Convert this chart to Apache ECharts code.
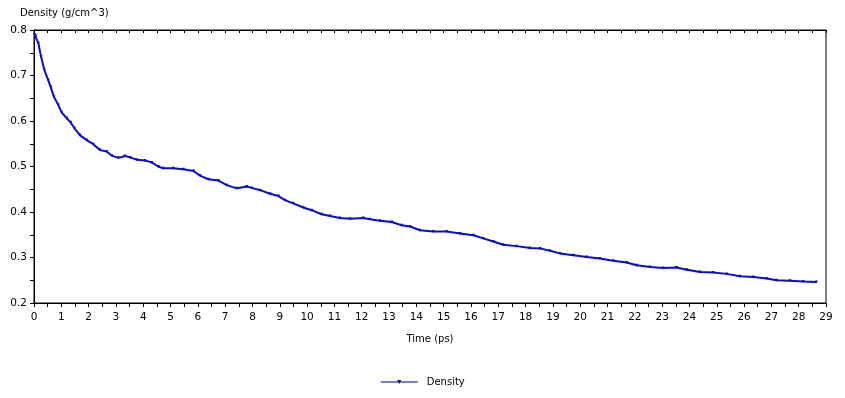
<!DOCTYPE html>
<html>
<head>
<meta charset="utf-8">
<script src="https://cdn.jsdelivr.net/npm/echarts@6/dist/echarts.min.js"></script>
<style>
  html, body { margin: 0; padding: 0; background: #fff; }
  #main { width: 845px; height: 398px; }
</style>
</head>
<body>
<div id="main"></div>
<script>
// time (ps)
var times = [0.02, 0.07, 0.16, 0.26, 0.38, 0.52, 0.61, 0.73, 0.89, 1.01, 1.20, 1.34, 1.48, 1.68, 1.93,
  2.17, 2.42, 2.66, 2.84, 3.09, 3.33, 3.52, 3.76, 4.06, 4.31, 4.55, 4.73, 5.10, 5.47, 5.84,
  6.08, 6.38, 6.75, 7.06, 7.42, 7.79, 7.97, 8.28, 8.64, 8.95, 9.19, 9.49, 9.86, 10.17, 10.53,
  10.84, 11.20, 11.57, 12.06, 12.30, 12.67, 13.10, 13.46, 13.77, 14.13, 14.62, 15.11, 15.60,
  16.09, 16.45, 16.82, 17.18, 17.67, 18.16, 18.53, 18.89, 19.26, 19.75, 20.24, 20.72, 21.21,
  21.70, 22.07, 22.56, 23.04, 23.53, 23.90, 24.39, 24.87, 25.36, 25.85, 26.34, 26.83, 27.19,
  27.68, 28.17, 28.65];
// density (g/cm^3)
var density = [0.790, 0.787, 0.771, 0.741, 0.712, 0.690, 0.675, 0.653, 0.635, 0.619, 0.606, 0.597, 0.584, 0.569, 0.558,
  0.549, 0.536, 0.533, 0.524, 0.519, 0.523, 0.520, 0.515, 0.513, 0.509, 0.500, 0.496, 0.496, 0.494, 0.490,
  0.480, 0.472, 0.469, 0.459, 0.452, 0.456, 0.453, 0.448, 0.440, 0.435, 0.426, 0.419, 0.410, 0.404, 0.395,
  0.391, 0.387, 0.385, 0.387, 0.384, 0.381, 0.378, 0.371, 0.368, 0.360, 0.357, 0.357, 0.353,
  0.349, 0.342, 0.335, 0.328, 0.325, 0.321, 0.320, 0.315, 0.309, 0.305, 0.301, 0.298, 0.293,
  0.289, 0.283, 0.279, 0.277, 0.278, 0.273, 0.268, 0.267, 0.264, 0.259, 0.257, 0.254, 0.250,
  0.249, 0.247, 0.246];

var font = 'DejaVu Sans, Verdana, sans-serif';
var points = times.map(function (t, i) { return [t, density[i]]; });

var chart = echarts.init(document.getElementById('main'));

// two copies of each axis: one with outside ticks and labels, one with inside ticks
var xBase = {
  type: 'value', min: 0, max: 29, interval: 0.5,
  axisLine: { lineStyle: { color: '#000', width: 1 } },
  axisTick: { length: 4, lineStyle: { color: '#000' } },
  splitLine: { show: false }
};
var yBase = {
  type: 'value', min: 0.2, max: 0.8, interval: 0.05,
  axisLine: { show: true, lineStyle: { color: '#000', width: 1 } },
  axisTick: { show: true, length: 4, lineStyle: { color: '#000' } },
  splitLine: { show: false }
};

var option = {
  animation: false,
  title: {
    text: 'Density (g/cm^3)',
    left: 15, top: 3,
    textStyle: { fontFamily: font, fontSize: 10, fontWeight: 'normal', color: '#000' }
  },
  grid: {
    left: 34, right: 19, top: 30, bottom: 95,
    show: true, borderColor: '#000', borderWidth: 1
  },
  legend: {
    top: 372, left: 'center',
    itemWidth: 37, itemHeight: 5, itemGap: 10,
    lineStyle: { width: 1, color: '#000080' },
    itemStyle: { color: '#000080' },
    textStyle: { fontFamily: font, fontSize: 10, color: '#000', padding: [0, 0, 0, 4] },
    data: ['Density']
  },
  xAxis: [
    Object.assign({}, xBase, {
      name: 'Time (ps)', nameLocation: 'middle', nameGap: 31,
      nameTextStyle: { fontFamily: font, fontSize: 10, color: '#000' },
      axisLabel: {
        fontFamily: font, fontSize: 10.5, color: '#000', margin: 9,
        formatter: function (v) { return v % 1 === 0 ? String(v) : ''; }
      }
    }),
    Object.assign({}, xBase, {
      axisTick: { inside: true, length: 3, lineStyle: { color: '#000' } },
      axisLabel: { show: false }
    })
  ],
  yAxis: [
    Object.assign({}, yBase, {
      axisLabel: {
        fontFamily: font, fontSize: 10.5, color: '#000', margin: 7,
        formatter: function (v) {
          return Math.round(v * 100) % 10 === 0 ? v.toFixed(1) : '';
        }
      }
    }),
    Object.assign({}, yBase, {
      axisTick: { show: true, inside: true, length: 3, lineStyle: { color: '#000' } },
      axisLabel: { show: false }
    })
  ],
  series: [
    {
      name: 'Density',
      type: 'line',
      data: points,
      color: '#0c0cc8',
      lineStyle: { width: 2 },
      symbol: 'triangle',
      symbolRotate: 180,
      symbolSize: 3,
      showSymbol: true
    }
  ]
};

chart.setOption(option);
</script>
</body>
</html>
